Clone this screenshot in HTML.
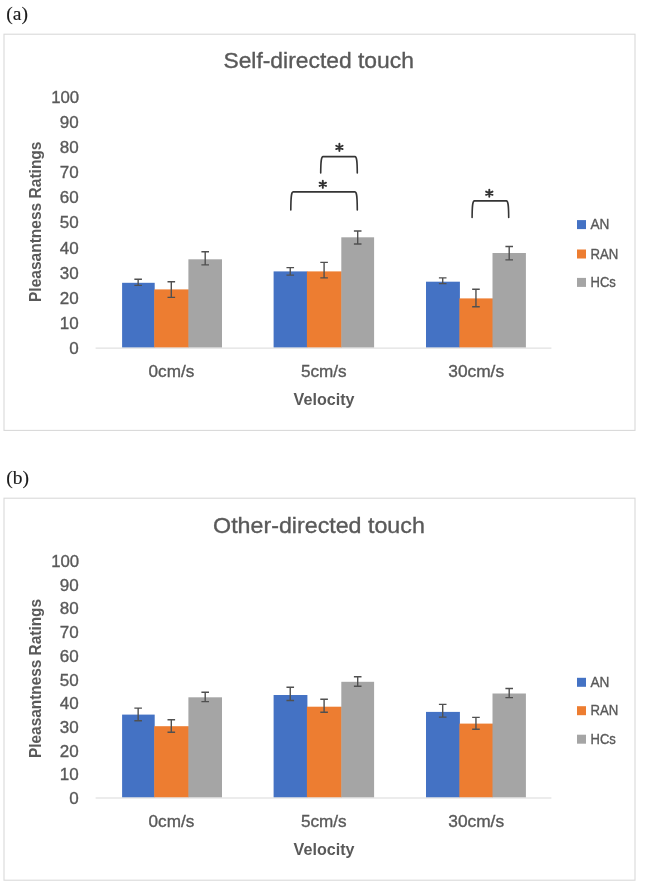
<!DOCTYPE html>
<html><head><meta charset="utf-8"><style>html,body{margin:0;padding:0;background:#fff;overflow:hidden}svg{display:block;filter:blur(0.35px)}</style></head>
<body><svg width="645" height="883" viewBox="0 0 645 883">
<rect width="645" height="883" fill="#fff"/>
<text x="6.3" y="19.6" font-size="19.5" font-family="&quot;Liberation Serif&quot;, serif" font-weight="normal" fill="#1a1a1a" stroke="#1a1a1a" stroke-width="0.15" text-anchor="start">(a)</text>
<text x="6.3" y="483.5" font-size="19.5" font-family="&quot;Liberation Serif&quot;, serif" font-weight="normal" fill="#1a1a1a" stroke="#1a1a1a" stroke-width="0.15" text-anchor="start">(b)</text>
<rect x="4.0" y="34.2" width="631.0" height="396.2" fill="#fff" stroke="#D9D9D9" stroke-width="1.1"/>
<text x="223.4" y="68.3" font-size="22" font-family="&quot;Liberation Sans&quot;, sans-serif" font-weight="normal" fill="#595959" stroke="#595959" stroke-width="0.35" text-anchor="start" textLength="190.5" lengthAdjust="spacingAndGlyphs">Self-directed touch</text>
<text x="78.60000000000001" y="354.1" font-size="17" font-family="&quot;Liberation Sans&quot;, sans-serif" font-weight="normal" fill="#595959" stroke="#595959" stroke-width="0.35" text-anchor="end">0</text>
<text x="78.60000000000001" y="328.97" font-size="17" font-family="&quot;Liberation Sans&quot;, sans-serif" font-weight="normal" fill="#595959" stroke="#595959" stroke-width="0.35" text-anchor="end">10</text>
<text x="78.60000000000001" y="303.84" font-size="17" font-family="&quot;Liberation Sans&quot;, sans-serif" font-weight="normal" fill="#595959" stroke="#595959" stroke-width="0.35" text-anchor="end">20</text>
<text x="78.60000000000001" y="278.71" font-size="17" font-family="&quot;Liberation Sans&quot;, sans-serif" font-weight="normal" fill="#595959" stroke="#595959" stroke-width="0.35" text-anchor="end">30</text>
<text x="78.60000000000001" y="253.58" font-size="17" font-family="&quot;Liberation Sans&quot;, sans-serif" font-weight="normal" fill="#595959" stroke="#595959" stroke-width="0.35" text-anchor="end">40</text>
<text x="78.60000000000001" y="228.45" font-size="17" font-family="&quot;Liberation Sans&quot;, sans-serif" font-weight="normal" fill="#595959" stroke="#595959" stroke-width="0.35" text-anchor="end">50</text>
<text x="78.60000000000001" y="203.32" font-size="17" font-family="&quot;Liberation Sans&quot;, sans-serif" font-weight="normal" fill="#595959" stroke="#595959" stroke-width="0.35" text-anchor="end">60</text>
<text x="78.60000000000001" y="178.19" font-size="17" font-family="&quot;Liberation Sans&quot;, sans-serif" font-weight="normal" fill="#595959" stroke="#595959" stroke-width="0.35" text-anchor="end">70</text>
<text x="78.60000000000001" y="153.06" font-size="17" font-family="&quot;Liberation Sans&quot;, sans-serif" font-weight="normal" fill="#595959" stroke="#595959" stroke-width="0.35" text-anchor="end">80</text>
<text x="78.60000000000001" y="127.93" font-size="17" font-family="&quot;Liberation Sans&quot;, sans-serif" font-weight="normal" fill="#595959" stroke="#595959" stroke-width="0.35" text-anchor="end">90</text>
<text x="79.2" y="102.8" font-size="17" font-family="&quot;Liberation Sans&quot;, sans-serif" font-weight="normal" fill="#595959" stroke="#595959" stroke-width="0.35" text-anchor="end" textLength="28.0" lengthAdjust="spacingAndGlyphs">100</text>
<g transform="translate(41,221.75) rotate(-90)"><text x="0" y="0" font-size="16" font-family="&quot;Liberation Sans&quot;, sans-serif" font-weight="bold" fill="#595959" text-anchor="middle" textLength="160.5" lengthAdjust="spacingAndGlyphs">Pleasantness Ratings</text></g>
<rect x="122.1" y="282.8" width="32.6" height="64.8" fill="#4472C4"/>
<rect x="154.2" y="289.4" width="34.7" height="58.2" fill="#ED7D31"/>
<rect x="188.4" y="259.3" width="33.6" height="88.3" fill="#A5A5A5"/>
<rect x="273.6" y="271.4" width="33.8" height="76.2" fill="#4472C4"/>
<rect x="306.9" y="271.4" width="34.9" height="76.2" fill="#ED7D31"/>
<rect x="341.3" y="237.3" width="32.8" height="110.3" fill="#A5A5A5"/>
<rect x="426.0" y="281.7" width="33.9" height="65.9" fill="#4472C4"/>
<rect x="459.4" y="298.4" width="33.6" height="49.2" fill="#ED7D31"/>
<rect x="492.5" y="253.0" width="33.4" height="94.6" fill="#A5A5A5"/>
<rect x="95.6" y="347.6" width="455.79999999999995" height="1" fill="#D9D9D9"/>
<path d="M134.34999999999997,279.2H141.95M138.14999999999998,279.2V285.4M134.34999999999997,285.4H141.95" stroke="#505050" stroke-width="1.4" fill="none"/>
<path d="M167.5,281.8H175.10000000000002M171.3,281.8V297.4M167.5,297.4H175.10000000000002" stroke="#505050" stroke-width="1.4" fill="none"/>
<path d="M201.39999999999998,251.8H209.0M205.2,251.8V264.9M201.39999999999998,264.9H209.0" stroke="#505050" stroke-width="1.4" fill="none"/>
<path d="M286.45,267.6H294.05M290.25,267.6V275.1M286.45,275.1H294.05" stroke="#505050" stroke-width="1.4" fill="none"/>
<path d="M320.3,262.4H327.90000000000003M324.1,262.4V277.9M320.3,277.9H327.90000000000003" stroke="#505050" stroke-width="1.4" fill="none"/>
<path d="M353.90000000000003,231.0H361.50000000000006M357.70000000000005,231.0V244.0M353.90000000000003,244.0H361.50000000000006" stroke="#505050" stroke-width="1.4" fill="none"/>
<path d="M438.9,277.9H446.5M442.7,277.9V283.6M438.9,283.6H446.5" stroke="#505050" stroke-width="1.4" fill="none"/>
<path d="M472.15,289.3H479.75M475.95,289.3V306.7M472.15,306.7H479.75" stroke="#505050" stroke-width="1.4" fill="none"/>
<path d="M505.4,246.5H513.0M509.2,246.5V259.9M505.4,259.9H513.0" stroke="#505050" stroke-width="1.4" fill="none"/>
<text x="148.6" y="377.2" font-size="16.3" font-family="&quot;Liberation Sans&quot;, sans-serif" font-weight="normal" fill="#595959" stroke="#595959" stroke-width="0.35" text-anchor="start" textLength="45.7" lengthAdjust="spacingAndGlyphs">0cm/s</text>
<text x="301" y="377.2" font-size="16.3" font-family="&quot;Liberation Sans&quot;, sans-serif" font-weight="normal" fill="#595959" stroke="#595959" stroke-width="0.35" text-anchor="start" textLength="45.7" lengthAdjust="spacingAndGlyphs">5cm/s</text>
<text x="448.3" y="377.2" font-size="16.3" font-family="&quot;Liberation Sans&quot;, sans-serif" font-weight="normal" fill="#595959" stroke="#595959" stroke-width="0.35" text-anchor="start" textLength="55.8" lengthAdjust="spacingAndGlyphs">30cm/s</text>
<text x="293.6" y="405.1" font-size="16" font-family="&quot;Liberation Sans&quot;, sans-serif" font-weight="bold" fill="#595959" text-anchor="start" textLength="60.9" lengthAdjust="spacingAndGlyphs">Velocity</text>
<rect x="577" y="220.1" width="9" height="9" fill="#4472C4"/>
<text x="590.5" y="229.2" font-size="14" font-family="&quot;Liberation Sans&quot;, sans-serif" font-weight="normal" fill="#595959" stroke="#595959" stroke-width="0.35" text-anchor="start" textLength="18.9" lengthAdjust="spacingAndGlyphs">AN</text>
<rect x="577" y="249.5" width="9" height="9" fill="#ED7D31"/>
<text x="590.5" y="258.6" font-size="14" font-family="&quot;Liberation Sans&quot;, sans-serif" font-weight="normal" fill="#595959" stroke="#595959" stroke-width="0.35" text-anchor="start" textLength="27.8" lengthAdjust="spacingAndGlyphs">RAN</text>
<rect x="577" y="277.9" width="9" height="9" fill="#A5A5A5"/>
<text x="590.5" y="287.0" font-size="14" font-family="&quot;Liberation Sans&quot;, sans-serif" font-weight="normal" fill="#595959" stroke="#595959" stroke-width="0.35" text-anchor="start" textLength="25.3" lengthAdjust="spacingAndGlyphs">HCs</text>
<rect x="4.0" y="498.2" width="631.0" height="382.0" fill="#fff" stroke="#D9D9D9" stroke-width="1.1"/>
<text x="213.1" y="532.8" font-size="22" font-family="&quot;Liberation Sans&quot;, sans-serif" font-weight="normal" fill="#595959" stroke="#595959" stroke-width="0.35" text-anchor="start" textLength="211.7" lengthAdjust="spacingAndGlyphs">Other-directed touch</text>
<text x="78.60000000000001" y="804.0" font-size="17" font-family="&quot;Liberation Sans&quot;, sans-serif" font-weight="normal" fill="#595959" stroke="#595959" stroke-width="0.35" text-anchor="end">0</text>
<text x="78.60000000000001" y="780.3" font-size="17" font-family="&quot;Liberation Sans&quot;, sans-serif" font-weight="normal" fill="#595959" stroke="#595959" stroke-width="0.35" text-anchor="end">10</text>
<text x="78.60000000000001" y="756.6" font-size="17" font-family="&quot;Liberation Sans&quot;, sans-serif" font-weight="normal" fill="#595959" stroke="#595959" stroke-width="0.35" text-anchor="end">20</text>
<text x="78.60000000000001" y="732.9" font-size="17" font-family="&quot;Liberation Sans&quot;, sans-serif" font-weight="normal" fill="#595959" stroke="#595959" stroke-width="0.35" text-anchor="end">30</text>
<text x="78.60000000000001" y="709.2" font-size="17" font-family="&quot;Liberation Sans&quot;, sans-serif" font-weight="normal" fill="#595959" stroke="#595959" stroke-width="0.35" text-anchor="end">40</text>
<text x="78.60000000000001" y="685.5" font-size="17" font-family="&quot;Liberation Sans&quot;, sans-serif" font-weight="normal" fill="#595959" stroke="#595959" stroke-width="0.35" text-anchor="end">50</text>
<text x="78.60000000000001" y="661.8" font-size="17" font-family="&quot;Liberation Sans&quot;, sans-serif" font-weight="normal" fill="#595959" stroke="#595959" stroke-width="0.35" text-anchor="end">60</text>
<text x="78.60000000000001" y="638.1" font-size="17" font-family="&quot;Liberation Sans&quot;, sans-serif" font-weight="normal" fill="#595959" stroke="#595959" stroke-width="0.35" text-anchor="end">70</text>
<text x="78.60000000000001" y="614.4" font-size="17" font-family="&quot;Liberation Sans&quot;, sans-serif" font-weight="normal" fill="#595959" stroke="#595959" stroke-width="0.35" text-anchor="end">80</text>
<text x="78.60000000000001" y="590.7" font-size="17" font-family="&quot;Liberation Sans&quot;, sans-serif" font-weight="normal" fill="#595959" stroke="#595959" stroke-width="0.35" text-anchor="end">90</text>
<text x="79.2" y="567.0" font-size="17" font-family="&quot;Liberation Sans&quot;, sans-serif" font-weight="normal" fill="#595959" stroke="#595959" stroke-width="0.35" text-anchor="end" textLength="28.0" lengthAdjust="spacingAndGlyphs">100</text>
<g transform="translate(41,678.5) rotate(-90)"><text x="0" y="0" font-size="16" font-family="&quot;Liberation Sans&quot;, sans-serif" font-weight="bold" fill="#595959" text-anchor="middle" textLength="159" lengthAdjust="spacingAndGlyphs">Pleasantness Ratings</text></g>
<rect x="122.1" y="714.6" width="32.6" height="82.9" fill="#4472C4"/>
<rect x="154.2" y="726.2" width="34.7" height="71.3" fill="#ED7D31"/>
<rect x="188.4" y="697.3" width="33.6" height="100.2" fill="#A5A5A5"/>
<rect x="273.6" y="695.0" width="33.8" height="102.5" fill="#4472C4"/>
<rect x="306.9" y="706.7" width="34.9" height="90.8" fill="#ED7D31"/>
<rect x="341.3" y="681.8" width="32.8" height="115.7" fill="#A5A5A5"/>
<rect x="426.0" y="711.9" width="33.9" height="85.6" fill="#4472C4"/>
<rect x="459.4" y="723.6" width="33.6" height="73.9" fill="#ED7D31"/>
<rect x="492.5" y="693.5" width="33.4" height="104.0" fill="#A5A5A5"/>
<rect x="95.6" y="797.5" width="455.79999999999995" height="1" fill="#D9D9D9"/>
<path d="M134.34999999999997,708.1H141.95M138.14999999999998,708.1V720.8M134.34999999999997,720.8H141.95" stroke="#505050" stroke-width="1.4" fill="none"/>
<path d="M167.5,719.8H175.10000000000002M171.3,719.8V732.2M167.5,732.2H175.10000000000002" stroke="#505050" stroke-width="1.4" fill="none"/>
<path d="M201.39999999999998,692.3H209.0M205.2,692.3V701.6M201.39999999999998,701.6H209.0" stroke="#505050" stroke-width="1.4" fill="none"/>
<path d="M286.45,687.3H294.05M290.25,687.3V700.5M286.45,700.5H294.05" stroke="#505050" stroke-width="1.4" fill="none"/>
<path d="M320.3,699.2H327.90000000000003M324.1,699.2V712.2M320.3,712.2H327.90000000000003" stroke="#505050" stroke-width="1.4" fill="none"/>
<path d="M353.90000000000003,676.7H361.50000000000006M357.70000000000005,676.7V686.2M353.90000000000003,686.2H361.50000000000006" stroke="#505050" stroke-width="1.4" fill="none"/>
<path d="M438.9,704.4H446.5M442.7,704.4V717.1M438.9,717.1H446.5" stroke="#505050" stroke-width="1.4" fill="none"/>
<path d="M472.15,717.4H479.75M475.95,717.4V729.2M472.15,729.2H479.75" stroke="#505050" stroke-width="1.4" fill="none"/>
<path d="M505.4,688.5H513.0M509.2,688.5V697.6M505.4,697.6H513.0" stroke="#505050" stroke-width="1.4" fill="none"/>
<text x="148.6" y="826.8" font-size="16.3" font-family="&quot;Liberation Sans&quot;, sans-serif" font-weight="normal" fill="#595959" stroke="#595959" stroke-width="0.35" text-anchor="start" textLength="45.7" lengthAdjust="spacingAndGlyphs">0cm/s</text>
<text x="301" y="826.8" font-size="16.3" font-family="&quot;Liberation Sans&quot;, sans-serif" font-weight="normal" fill="#595959" stroke="#595959" stroke-width="0.35" text-anchor="start" textLength="45.7" lengthAdjust="spacingAndGlyphs">5cm/s</text>
<text x="448.3" y="826.8" font-size="16.3" font-family="&quot;Liberation Sans&quot;, sans-serif" font-weight="normal" fill="#595959" stroke="#595959" stroke-width="0.35" text-anchor="start" textLength="55.8" lengthAdjust="spacingAndGlyphs">30cm/s</text>
<text x="293.6" y="854.6" font-size="16" font-family="&quot;Liberation Sans&quot;, sans-serif" font-weight="bold" fill="#595959" text-anchor="start" textLength="60.9" lengthAdjust="spacingAndGlyphs">Velocity</text>
<rect x="577" y="677.8" width="9" height="9" fill="#4472C4"/>
<text x="590.5" y="686.9" font-size="14" font-family="&quot;Liberation Sans&quot;, sans-serif" font-weight="normal" fill="#595959" stroke="#595959" stroke-width="0.35" text-anchor="start" textLength="18.9" lengthAdjust="spacingAndGlyphs">AN</text>
<rect x="577" y="706.2" width="9" height="9" fill="#ED7D31"/>
<text x="590.5" y="715.3" font-size="14" font-family="&quot;Liberation Sans&quot;, sans-serif" font-weight="normal" fill="#595959" stroke="#595959" stroke-width="0.35" text-anchor="start" textLength="27.8" lengthAdjust="spacingAndGlyphs">RAN</text>
<rect x="577" y="734.7" width="9" height="9" fill="#A5A5A5"/>
<text x="590.5" y="743.8" font-size="14" font-family="&quot;Liberation Sans&quot;, sans-serif" font-weight="normal" fill="#595959" stroke="#595959" stroke-width="0.35" text-anchor="start" textLength="25.3" lengthAdjust="spacingAndGlyphs">HCs</text>
<path d="M320.7,173.0C320.8,161.6 321.09999999999997,156.79999999999998 323.09999999999997,156.6H354.90000000000003C356.90000000000003,156.79999999999998 357.2,161.6 357.3,173.0" stroke="#353535" stroke-width="1.6" fill="none" stroke-linecap="round"/><path d="M339.4,143.8V151.0M336.19,145.77L342.61,149.03M336.19,149.03L342.61,145.77" stroke="#333" stroke-width="1.9" fill="none" stroke-linecap="round"/><path d="M290.8,209.9C290.90000000000003,196.9 291.2,192.1 293.2,191.9H354.90000000000003C356.90000000000003,192.1 357.2,196.9 357.3,209.9" stroke="#353535" stroke-width="1.6" fill="none" stroke-linecap="round"/><path d="M322.8,180.70000000000002V187.9M319.59,182.67L326.01,185.93M319.59,185.93L326.01,182.67" stroke="#333" stroke-width="1.9" fill="none" stroke-linecap="round"/><path d="M472.1,217.4C472.20000000000005,205.9 472.5,201.1 474.5,200.9H506.3C508.3,201.1 508.59999999999997,205.9 508.7,217.4" stroke="#353535" stroke-width="1.6" fill="none" stroke-linecap="round"/><path d="M489.3,189.6V196.79999999999998M486.09,191.57L492.51,194.83M486.09,194.83L492.51,191.57" stroke="#333" stroke-width="1.9" fill="none" stroke-linecap="round"/>
</svg></body></html>
